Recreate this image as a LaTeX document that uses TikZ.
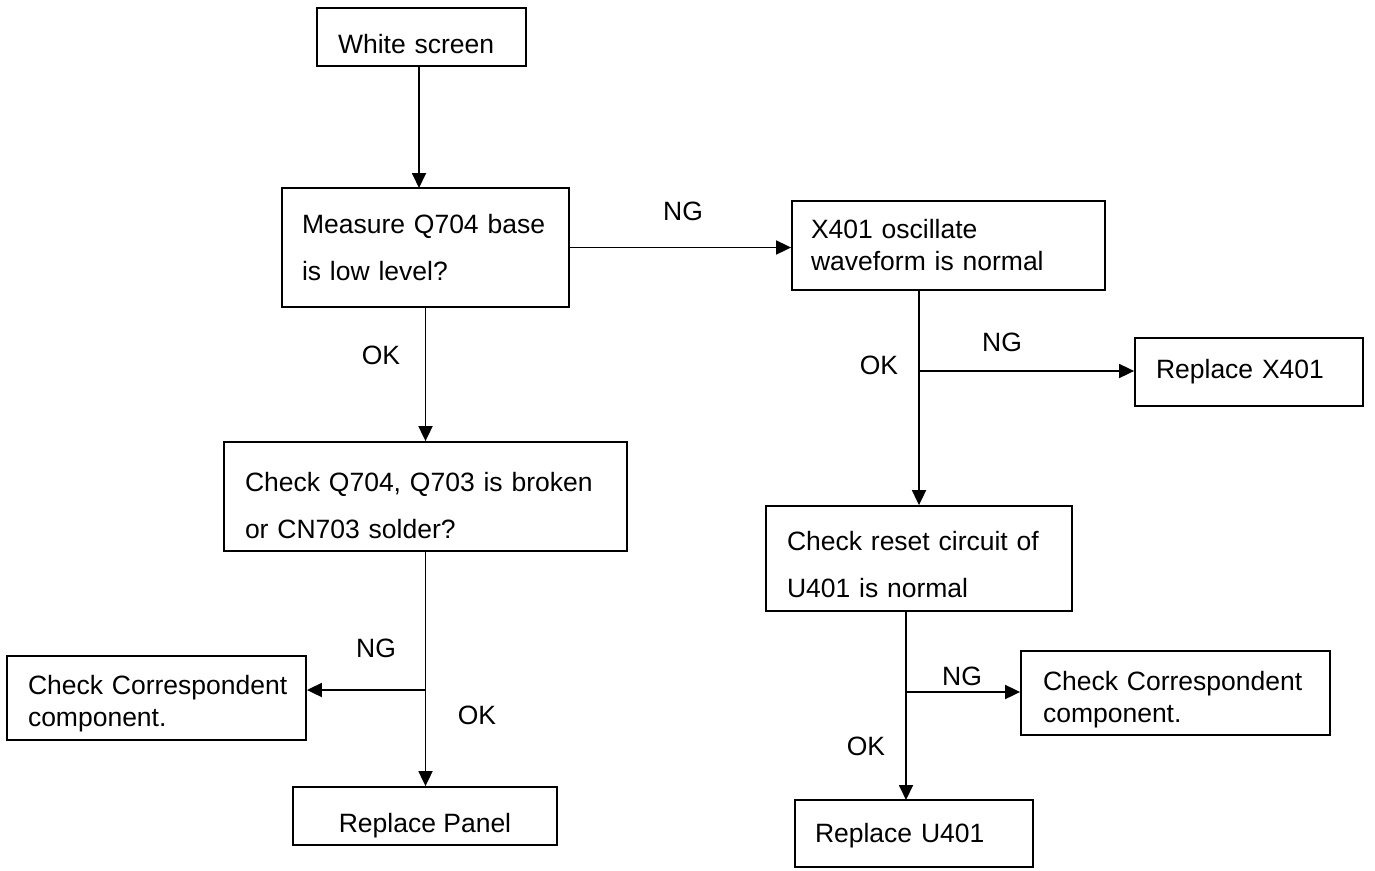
\documentclass[tikz,border=0pt]{standalone}
\usepackage{fontspec}
\setmainfont{Liberation Sans}
\usetikzlibrary{arrows.meta}
\newcommand{\dn}[1]{\rule{0pt}{\dimexpr 19.5pt+#1pt+#1pt\relax}}
\begin{document}
\begin{tikzpicture}[x=1pt,y=-1pt,
  every node/.style={font=\fontsize{26.5}{32}\selectfont},
  box/.style={draw,line width=1.8pt,inner ysep=0pt,align=left},
  wide/.style={font=\fontsize{26.5}{47}\selectfont},
  lbl/.style={inner sep=0pt},
  conn/.style={line width=1.8pt},
  arr/.style={conn,-{Triangle[length=15pt,width=14pt]}}]
\useasboundingbox[fill=white] (0,0) rectangle (1375,870);
% boxes
\node[box,minimum width=209,minimum height=58,inner xsep=21pt,text width=167pt] (ws) at (421.5,37) {\dn{7}White screen};
\node[box,wide,minimum width=287,minimum height=119,inner xsep=20pt,text width=247pt] (meas) at (425.5,247.5) {Measure Q704 base\\is low level?};
\node[box,minimum width=313,minimum height=89,inner xsep=19pt,text width=275pt] (x401) at (948.5,245.5) {X401 oscillate\\waveform is normal};
\node[box,minimum width=228,minimum height=68,inner xsep=21pt,text width=186pt] (rx401) at (1249,372) {Replace X401};
\node[box,wide,minimum width=403,minimum height=109,inner xsep=21pt,text width=361pt] (chk) at (425.5,496.5) {\dn{9}Check Q704, Q703 is broken\\or CN703 solder?};
\node[box,minimum width=299,minimum height=84,inner xsep=21pt,text width=257pt] (corrL) at (156.5,698) {\dn{5}\makebox[0pt][l]{Check Correspondent}\\component.};
\node[box,minimum width=264,minimum height=58,align=center] (panel) at (425,816) {\dn{9}Replace Panel};
\node[box,wide,minimum width=306,minimum height=105,inner xsep=21pt,text width=264pt] (reset) at (919,558.5) {\dn{6}Check reset circuit of\\U401 is normal};
\node[box,minimum width=309,minimum height=84,inner xsep=22pt,text width=265pt] (corrR) at (1175.5,693) {\dn{6}Check Correspondent\\component.};
\node[box,minimum width=238,minimum height=67,inner xsep=20pt,text width=198pt] (ru401) at (914,833.5) {\dn{2}Replace U401};
% junctions
\coordinate (wsb) at (419,66);
\coordinate (measb) at (419,188);
\coordinate (j1) at (919,371);
\coordinate (j2) at (425.5,690);
\coordinate (rb) at (906,611);
\coordinate (j3) at (906,692);
\coordinate (ru) at (906,800);
% connectors
\draw[arr] (wsb) -- (measb);
\draw[arr] (meas.east) -- (meas.east -| x401.west);
\draw[arr] (reset.north |- x401.south) -- (reset.north);
\draw[arr] (j1) -- (j1 -| rx401.west);
\draw[arr] (meas.south) -- (meas.south |- chk.north);
\draw[arr] (chk.south) -- (chk.south |- panel.north);
\draw[arr] (j2) -- (j2 -| corrL.east);
\draw[arr] (rb) -- (ru);
\draw[arr] (j3) -- (j3 -| corrR.west);
% labels
\node[lbl] (l1) at (683,211) {NG};
\node[lbl] (l2) at (381,355) {OK};
\node[lbl] (l3) at (1002,342) {NG};
\node[lbl] (l4) at (879,365) {OK};
\node[lbl] (l5) at (376,648) {NG};
\node[lbl] (l6) at (477,715) {OK};
\node[lbl] (l7) at (962,676) {NG};
\node[lbl] (l8) at (866,746) {OK};
\end{tikzpicture}
\end{document}
